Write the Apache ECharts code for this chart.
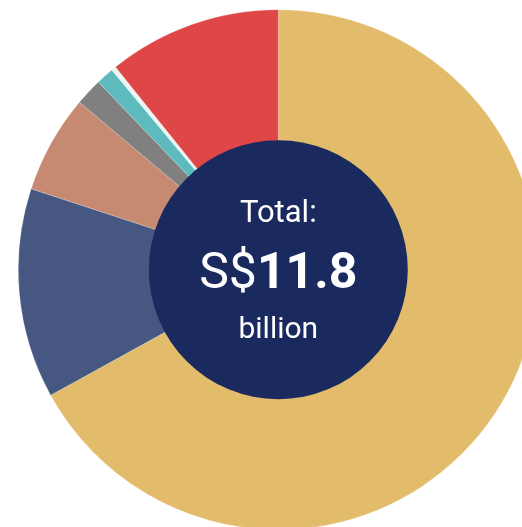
<!DOCTYPE html>
<html>
<head>
<meta charset="utf-8">
<script src="https://cdn.jsdelivr.net/npm/echarts@6/dist/echarts.min.js"></script>
<style>
  html, body { margin: 0; padding: 0; background: #fff; }
  #chart { width: 522px; height: 527px; }
</style>
</head>
<body>
<div id="chart"></div>
<script>
// Spending breakdown (S$ billion), clockwise from 12 o'clock
const categories = ['A', 'B', 'C', 'D', 'E', 'F', 'G'];
const values = [7.90, 1.54, 0.72, 0.20, 0.13, 0.035, 1.27];
const colors = ['#E3BC6B', '#465882', '#C68A73', '#808080', '#5DBBBD', '#EDF2F2', '#DF4647'];
const totalLabel = 'S$';
const totalValue = '11.8';

const fontFamily = 'Roboto, "Noto Sans", sans-serif';
const cx = 278.3, cy = 269.7;

const chart = echarts.init(document.getElementById('chart'), null, { renderer: 'canvas' });
chart.setOption({
  animation: false,
  backgroundColor: '#ffffff',
  series: [
    {
      type: 'pie',
      center: [cx, cy],
      radius: [0, 260],
      startAngle: 90,
      clockwise: true,
      silent: true,
      label: { show: false },
      labelLine: { show: false },
      itemStyle: { borderColor: 'rgba(255,255,255,0.4)', borderWidth: 0.5 },
      data: categories.map((name, i) => ({
        name, value: values[i], itemStyle: { color: colors[i] }
      }))
    },
    {
      type: 'pie',
      center: [cx, cy],
      radius: [0, 129.5],
      silent: true,
      label: { show: false },
      labelLine: { show: false },
      itemStyle: { color: '#1A2A5E' },
      data: [{ name: 'Total', value: 1 }]
    }
  ],
  graphic: {
    elements: [
      {
        type: 'text', x: cx, y: 214, z: 100,
        style: { text: 'Total:', fill: '#fff', fontSize: 31, fontFamily: fontFamily, align: 'center', verticalAlign: 'middle' }
      },
      {
        type: 'text', x: cx, y: 275, z: 100,
        style: {
          text: '{r|' + totalLabel + '}{b|' + totalValue + '}',
          align: 'center', verticalAlign: 'middle',
          rich: {
            r: { fill: '#fff', fontSize: 50, fontFamily: fontFamily, fontWeight: 'normal' },
            b: { fill: '#fff', fontSize: 50, fontFamily: fontFamily, fontWeight: 'bold' }
          }
        }
      },
      {
        type: 'text', x: cx, y: 330, z: 100,
        style: { text: 'billion', fill: '#fff', fontSize: 30, fontFamily: fontFamily, align: 'center', verticalAlign: 'middle' }
      }
    ]
  }
});
</script>
</body>
</html>
